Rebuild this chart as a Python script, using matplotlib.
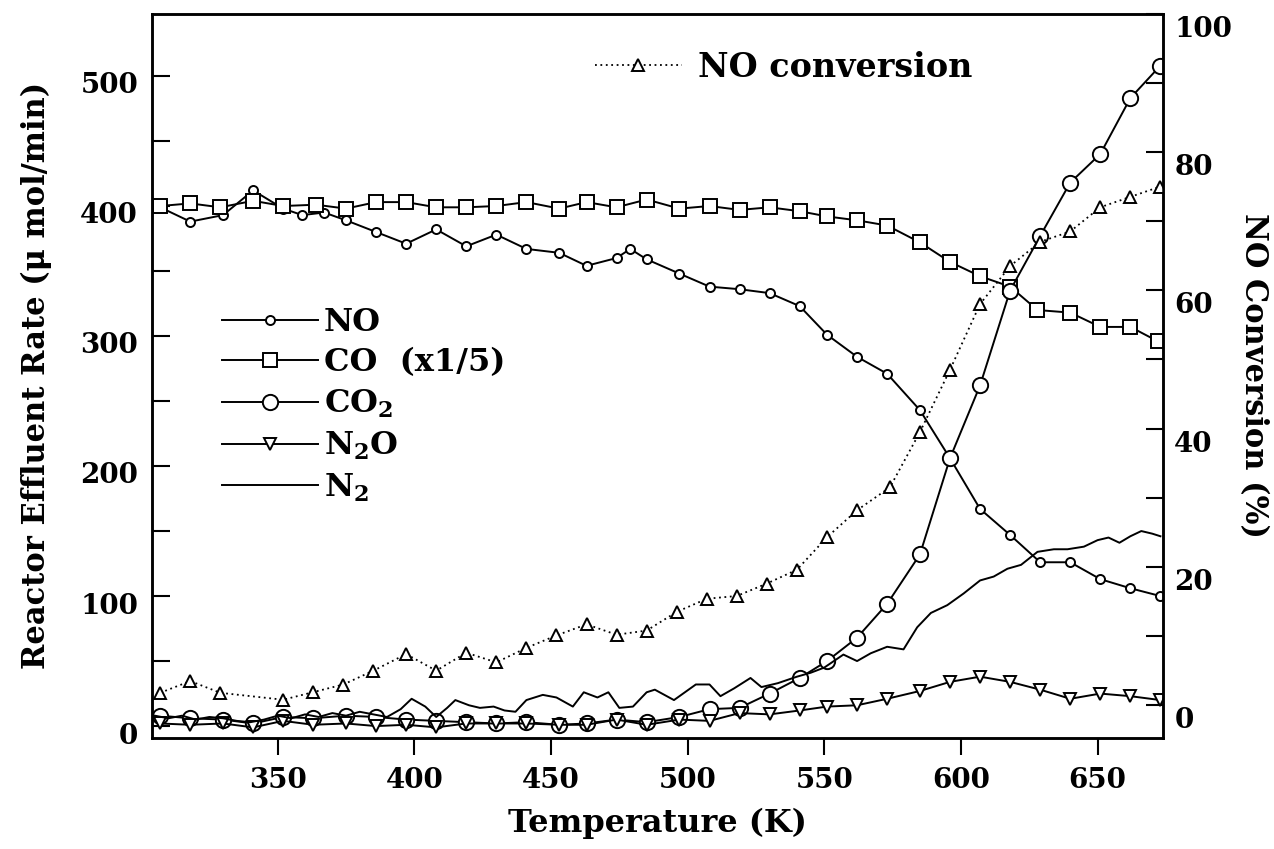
import matplotlib
matplotlib.use("Agg")
import matplotlib.pyplot as plt
import matplotlib.transforms as mtransforms
from matplotlib.ticker import MultipleLocator

plt.rcParams['font.family'] = ['DejaVu Serif']
plt.rcParams['font.weight'] = 'bold'
plt.rcParams['axes.labelweight'] = 'bold'
plt.rcParams['mathtext.fontset'] = 'dejavuserif'
plt.rcParams['mathtext.default'] = 'bf'

# NO (small diamonds)
no_T = [307, 318, 330, 341, 352, 359, 367, 375, 386, 397, 408, 419, 430, 441, 453, 463,
        474, 479, 485, 497, 508, 519, 530, 541, 551, 562, 573, 585, 596, 607, 618, 629,
        640, 651, 662, 673]
no_v = [399, 388, 393, 412, 398, 393, 395, 389, 380, 371, 382, 369, 378, 367, 364, 354,
        360, 367, 359, 348, 338, 336, 333, 323, 301, 284, 271, 243, 206, 167, 147, 126,
        126, 113, 106, 100]

# CO (x1/5, squares)
co_T = [307, 318, 329, 341, 352, 364, 375, 386, 397, 408, 419, 430, 441, 453, 463, 474,
        485, 497, 508, 519, 530, 541, 551, 562, 573, 585, 596, 607, 618, 628, 640, 651,
        662, 672]
co_v = [400, 402, 399, 404, 400, 401, 398, 403, 403, 399, 399, 400, 403, 398, 403, 399,
        405, 398, 400, 397, 399, 396, 392, 389, 385, 372, 357, 346, 338, 320, 318, 307,
        307, 296]

# CO2 (large circles)
co2_T = [307, 318, 330, 341, 352, 363, 375, 386, 397, 408, 419, 430, 441, 453, 463, 474,
         485, 497, 508, 519, 530, 541, 551, 562, 573, 585, 596, 607, 618, 629, 640, 651,
         662, 673]
co2_v = [8, 6, 5, 2, 7, 6, 8, 7, 5, 4, 3, 2, 3, 1, 2, 5,
         3, 7, 13, 14, 25, 37, 50, 68, 94, 132, 206, 262, 335, 377, 418, 440,
         483, 508]

# N2O (down triangles)
n2o_T = co2_T
n2o_v = [2, 1, 2, -1, 4, 1, 2, 0, 1, -1, 2, 2, 2, 1, 1, 5,
         1, 5, 4, 10, 9, 12, 15, 16, 21, 27, 34, 38, 34, 28, 21, 25,
         23, 20]

# N2 (plain line)
n2_T = [305, 310, 315, 320, 325, 330, 335, 340, 345, 350, 355, 360, 365, 370, 375, 380,
        385, 390, 395, 399, 404, 408, 412, 415, 420, 424, 429, 433, 437, 441, 447, 452,
        458, 462, 467, 471, 475, 480, 485, 488, 495, 503, 508, 512, 517, 523, 527, 533,
        540, 545, 550, 557, 562, 567, 573, 579, 584, 589, 595, 601, 607, 612, 617, 622,
        628, 634, 639, 645, 650, 654, 658, 662, 666, 670, 673]
n2_v = [8, 6, 8, 5, 7, 6, 4, 3, 5, 8, 6, 9, 7, 10, 8, 11,
        9, 7, 13, 21, 15, 7, 14, 20, 16, 14, 15, 12, 11, 20, 24, 22,
        15, 26, 22, 26, 14, 15, 26, 28, 20, 32, 32, 23, 29, 37, 30, 33,
        38, 41, 45, 55, 50, 56, 61, 59, 76, 87, 93, 102, 112, 115, 121, 124,
        134, 136, 136, 138, 143, 145, 141, 146, 150, 148, 146]

# NO conversion (%)
conv_T = [307, 318, 329, 352, 363, 374, 385, 397, 408, 419, 430, 441, 452, 463, 474, 485,
          496, 507, 518, 529, 540, 551, 562, 574, 585, 596, 607, 618, 629, 640, 651, 662,
          673]
conv_v = [1.8, 3.5, 1.8, 0.8, 1.9, 3.0, 5.0, 7.4, 5.0, 7.6, 6.2, 8.3, 10.1, 11.7, 10.2, 10.8,
          13.5, 15.4, 15.8, 17.6, 19.6, 24.3, 28.2, 31.5, 39.5, 48.5, 58.0, 63.5, 67.0, 68.5, 72.0, 73.5,
          75.0]

fig = plt.figure(figsize=(12.74, 8.49), dpi=100)
ax = fig.add_axes([0.1193, 0.131, 0.7937, 0.853])
ax2 = ax.twinx()

lw = 1.4
mk = dict(color='black', markerfacecolor='white', markeredgecolor='black',
          markeredgewidth=1.4)

l_no, = ax.plot(no_T, no_v, marker='o', markersize=6.5, linewidth=lw, label='NO', **mk)
l_co, = ax.plot(co_T, co_v, marker='s', markersize=10, linewidth=lw, label='CO  (x1/5)', **mk)
l_co2, = ax.plot(co2_T, co2_v, marker='o', markersize=11, linewidth=lw, label='CO$_2$', **mk)
l_n2o, = ax.plot(n2o_T, n2o_v, marker='v', markersize=9, linewidth=lw, label='N$_2$O', **mk)
l_n2, = ax.plot(n2_T, n2_v, color='black', linewidth=lw, label='N$_2$')

l_conv, = ax2.plot(conv_T, conv_v, marker='^', markersize=9, linestyle=(0, (1, 2)),
                   linewidth=1.3, label='NO conversion', **mk)

ax.set_xlim(304, 674)
ax.set_ylim(-9, 548)
ax2.set_ylim(-4.7, 100)

ax.set_xticks([350, 400, 450, 500, 550, 600, 650])
ax.yaxis.set_major_locator(MultipleLocator(100))
ax.yaxis.set_minor_locator(MultipleLocator(50))
ax2.yaxis.set_major_locator(MultipleLocator(20))
ax2.yaxis.set_minor_locator(MultipleLocator(10))

ax.tick_params(axis='x', direction='out', length=12, width=1.5, labelsize=20, pad=9)
ax.tick_params(axis='y', which='both', direction='in', length=13, width=1.5, labelsize=20, pad=10)
ax2.tick_params(axis='y', which='both', direction='in', length=12, width=1.5, labelsize=20, pad=8)

# the printed tick numbers sit a little below their ticks
for lab in ax.get_yticklabels():
    lab.set_transform(lab.get_transform() + mtransforms.ScaledTranslation(0, -5 / 72, fig.dpi_scale_trans))
for lab in ax2.get_yticklabels():
    lab.set_transform(lab.get_transform() + mtransforms.ScaledTranslation(0, -9 / 72, fig.dpi_scale_trans))

for sp in ax.spines.values():
    sp.set_linewidth(1.8)
for sp in ax2.spines.values():
    sp.set_linewidth(1.8)

ax.set_xlabel('Temperature (K)', fontsize=23, labelpad=10)
ax.set_ylabel('Reactor Effluent Rate (μ mol/min)', fontsize=22, labelpad=20)
ax2.set_ylabel('NO Conversion (%)', fontsize=22, rotation=270, va='bottom', labelpad=4)

leg1 = ax.legend(handles=[l_no, l_co, l_co2, l_n2o, l_n2], loc='upper left',
                 bbox_to_anchor=(0.069, 0.595), frameon=False, fontsize=23,
                 handlelength=3.0, handletextpad=0.2, labelspacing=0.3,
                 numpoints=1, borderaxespad=0, borderpad=0)
leg2 = ax2.legend(handles=[l_conv], loc='upper left', bbox_to_anchor=(0.438, 0.949),
                  frameon=False, fontsize=24, handlelength=2.6, handletextpad=0.5,
                  numpoints=1, borderaxespad=0, borderpad=0)

fig.savefig('out.png', dpi=100)
